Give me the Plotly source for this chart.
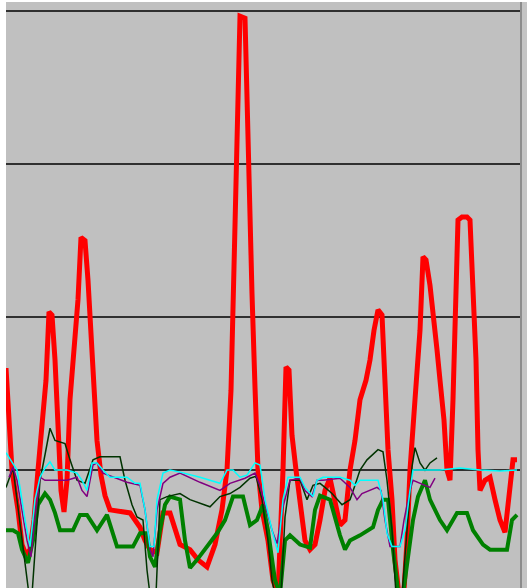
import plotly.graph_objects as go

# x positions (sample offsets) and values; gridlines at 0, 150, 300, 450
red_t = [0, 3, 6, 9, 12, 16, 20, 24, 28, 32, 36, 40, 43, 46, 49, 52, 55, 58, 61, 64, 68, 72, 75, 79, 82, 85, 88, 91, 95, 99,
         104, 114, 124, 134, 139, 144, 151, 157, 164, 174, 184, 192, 201, 209, 216, 221, 225, 228, 231, 234, 239, 241, 244, 246,
         249, 252, 256, 262, 267, 272, 277, 280, 283, 286, 290, 294, 299, 304, 309, 314, 319, 324, 329, 334, 339, 344, 349, 354,
         360, 364, 368, 372, 376, 379, 382, 386, 389, 393, 398, 401, 404, 409, 414, 417, 420, 424, 427, 431, 434, 438, 441, 444,
         447, 450, 452, 456, 461, 464, 467, 470, 472, 474, 479, 484, 489, 494, 499, 504, 507, 511]
red_v = [100, 49, 0, -20, -39, -73, -83, -78, -49, 0, 39, 88, 155, 152, 108, 39, -20, -41, -10, 69, 118, 167, 228, 225, 186,
         127, 78, 29, -5, -25, -39, -41, -42, -56, -69, -78, -81, -42, -42, -73, -78, -88, -95, -73, -39, 0, 78, 199, 321, 445,
         443, 352, 263, 173, 81, 0, -39, -69, -108, -122, 0, 101, 98, 34, 0, -29, -69, -78, -73, -49, -20, -8, -29, -54, -49, 0,
         29, 69, 88, 108, 137, 157, 152, 88, 20, -29, -88, -122, -118, -69, 0, 69, 137, 209, 206, 181, 157, 118, 88, 49, 0, -10,
         69, 167, 245, 248, 248, 245, 176, 108, 20, -20, -10, -7, -29, -49, -61, -20, 10, 10]

green_t = [0, 7, 12, 16, 22, 27, 32, 39, 44, 49, 54, 67, 74, 81, 91, 101, 111, 127, 134, 141, 144, 149, 154, 159, 164, 174,
           179, 184, 191, 201, 211, 219, 227, 237, 244, 251, 257, 262, 269, 274, 279, 284, 294, 304, 309, 314, 324, 334, 339,
           344, 354, 367, 372, 377, 382, 387, 392, 397, 402, 407, 412, 419, 424, 434, 441, 451, 461, 467, 477, 484, 501, 506, 511]
green_v = [-59, -59, -62, -78, -91, -69, -34, -23, -29, -42, -59, -59, -44, -44, -59, -44, -75, -75, -62, -62, -85, -95, -59,
           -34, -26, -29, -69, -96, -88, -75, -62, -49, -26, -26, -54, -49, -34, -59, -108, -122, -69, -64, -73, -76, -39, -25,
           -29, -64, -78, -69, -64, -56, -39, -29, -29, -78, -118, -122, -88, -49, -26, -10, -29, -49, -59, -42, -42, -59, -73,
           -78, -78, -49, -44]

cyan_t = [0, 7, 11, 14, 19, 24, 29, 34, 39, 44, 49, 61, 71, 76, 81, 86, 91, 97, 104, 121, 129, 134, 139, 144, 148, 151, 157,
          164, 174, 194, 214, 221, 227, 234, 241, 249, 254, 259, 266, 272, 277, 282, 294, 299, 307, 311, 317, 334, 344, 349,
          354, 372, 377, 381, 386, 394, 399, 404, 407, 434, 454, 474, 494, 511]
cyan_v = [17, 7, 0, -17, -49, -75, -29, -7, 2, 8, 0, 0, -3, -10, -20, 7, 7, 0, -7, -7, -13, -13, -39, -75, -75, -29, -3, 0,
          -2, -7, -13, 0, 0, -7, -5, 7, 5, -29, -59, -81, -29, -7, -7, -17, -26, -10, -7, -7, -10, -15, -10, -10, -29, -62,
          -75, -75, -59, -20, 0, 0, 2, 0, -1, 0]

purple_t = [3, 7, 11, 16, 21, 25, 29, 34, 39, 61, 71, 76, 81, 87, 91, 97, 107, 121, 134, 139, 144, 147, 151, 157, 164, 174,
            194, 214, 224, 239, 249, 254, 259, 266, 271, 277, 284, 294, 299, 306, 311, 317, 334, 344, 351, 356, 371, 375, 379,
            384, 394, 398, 404, 407, 419, 424, 429]
purple_v = [-7, 3, -10, -39, -69, -85, -46, -7, -10, -10, -7, -20, -26, 5, 7, -3, -7, -12, -15, -39, -78, -85, -39, -13, -7,
            -3, -12, -20, -13, -8, -3, -15, -34, -59, -72, -36, -10, -8, -20, -26, -10, -10, -8, -17, -29, -23, -17, -20, -49,
            -75, -75, -49, -20, -10, -15, -17, -8]

dark_t = [0, 7, 11, 16, 20, 23, 26, 30, 34, 39, 44, 49, 59, 64, 71, 79, 87, 94, 114, 119, 126, 131, 137, 141, 144, 150, 154,
          161, 174, 184, 204, 214, 224, 234, 244, 250, 256, 262, 266, 269, 275, 279, 284, 294, 301, 307, 314, 319, 326, 336,
          344, 349, 354, 361, 367, 372, 377, 381, 386, 390, 396, 401, 406, 409, 414, 419, 424, 431]
dark_v = [-17, 2, -29, -69, -103, -122, -122, -69, -10, 15, 41, 29, 26, 10, -10, -13, 10, 13, 13, -10, -34, -46, -49, -98,
          -122, -122, -29, -26, -23, -29, -36, -26, -23, -17, -8, -6, -29, -69, -108, -122, -122, -46, -10, -10, -29, -15,
          -13, -17, -23, -34, -29, -15, 0, 10, 15, 20, 18, -10, -59, -122, -122, -62, 3, 22, 7, 0, 7, 12]

grid_vals = [0, 150, 300, 450]

fig = go.Figure()
fig.add_trace(go.Scatter(x=red_t, y=red_v, mode="lines", line=dict(color="#FF0000", width=5), hoverinfo="skip"))
fig.add_trace(go.Scatter(x=green_t, y=green_v, mode="lines", line=dict(color="#008000", width=4), hoverinfo="skip"))
fig.add_trace(go.Scatter(x=dark_t, y=dark_v, mode="lines", line=dict(color="#003300", width=1.5), hoverinfo="skip"))
fig.add_trace(go.Scatter(x=purple_t, y=purple_v, mode="lines", line=dict(color="#800080", width=1.5), hoverinfo="skip"))
fig.add_trace(go.Scatter(x=cyan_t, y=cyan_v, mode="lines", line=dict(color="#00FFFF", width=1.5), hoverinfo="skip"))

fig.update_layout(
    width=527, height=588,
    margin=dict(l=6, r=6, t=2, b=0),
    paper_bgcolor="white",
    plot_bgcolor="#C0C0C0",
    showlegend=False,
    xaxis=dict(range=[0, 515], showgrid=False, zeroline=False, showticklabels=False, ticks="", showline=False),
    yaxis=dict(range=[-115.6, 458.8], tickvals=grid_vals, showgrid=True, gridcolor="#303030", gridwidth=2,
               zeroline=False, showticklabels=False, ticks="", showline=False),
    shapes=[
        dict(type="rect", xref="paper", yref="paper", x0=1, x1=1 + 6 / 515, y0=0, y1=1,
             fillcolor="#C4C4C4", line=dict(width=0), layer="below"),
        dict(type="line", xref="paper", yref="paper", x0=1, x1=1, y0=0, y1=1,
             line=dict(color="#8C8C8C", width=2)),
    ],
)

fig.write_html(
    "out.html",
    config={"displayModeBar": False, "staticPlot": True},
    post_script="document.body.style.margin='0';document.body.style.overflow='hidden';",
)
